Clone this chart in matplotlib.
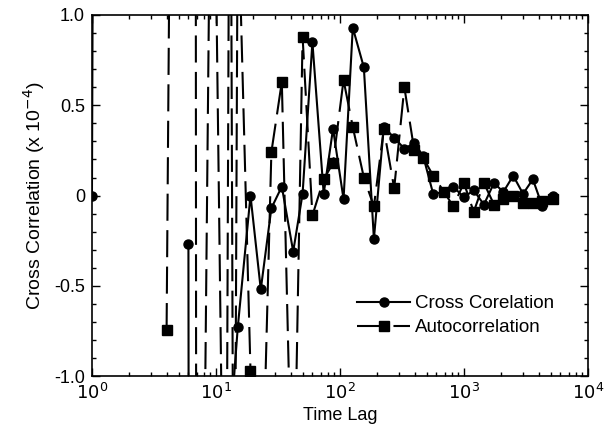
import numpy as np
import matplotlib
matplotlib.use("Agg")
import matplotlib.pyplot as plt
from matplotlib.ticker import MultipleLocator, LogLocator, NullFormatter

plt.rcParams['font.family'] = ['Liberation Sans', 'DejaVu Sans']

# Cross correlation (x 1e-4); NaN = not plotted
cross_lag = [1, 2, 3, 6, 7, 8, 9, 10, 12, 13, 15, 19, 23, 28, 34, 42, 50, 60, 74, 88,
             107, 127, 156, 188, 226, 274, 331, 398, 469, 565, 694, 820, 1000, 1200,
             1450, 1750, 2080, 2500, 3000, 3600, 4300, 5200]
cross_val = [0.0, 60.0, np.nan, -0.27, -40.0, -20.0, -10.0, -8.0, -5.0, -1.3, -0.73, 0.0,
             -0.52, -0.07, 0.05, -0.31, 0.01, 0.85, 0.01, 0.37, -0.02, 0.93, 0.71, -0.24,
             0.38, 0.32, 0.26, 0.29, 0.22, 0.01, 0.02, 0.05, -0.01, 0.03, -0.05, 0.07,
             0.02, 0.11, 0.01, 0.09, -0.06, 0.0]

# Autocorrelation (x 1e-4)
auto_lag = [4, 5, 6, 7, 8, 9, 10, 12, 13, 14, 15, 19, 23, 28, 34, 42, 50, 60, 74, 88,
            107, 127, 156, 188, 226, 274, 331, 398, 469, 565, 694, 820, 1000, 1200,
            1450, 1750, 2080, 2500, 3000, 3600, 4300, 5200]
auto_val = [-0.745, 8.0, 60.0, -6.0, -1.8, 1.8, 1.3, -3.0, 3.0, -3.0, 1.66, -0.97, -2.0,
            0.24, 0.63, -2.0, 0.88, -0.11, 0.09, 0.18, 0.64, 0.38, 0.10, -0.06, 0.37,
            0.04, 0.60, 0.25, 0.21, 0.11, 0.02, -0.06, 0.07, -0.09, 0.07, -0.05, -0.02,
            0.0, -0.04, -0.04, -0.03, -0.02]

y_ticks = [-1.0, -0.5, 0.0, 0.5, 1.0]
y_ticklabels = ["-1.0", "-0.5", "0", "0.5", "1.0"]
x_ticks = [1, 10, 100, 1000, 10000]
x_ticklabels = ["$10^0$", "$10^1$", "$10^2$", "$10^3$", "$10^4$"]

fig = plt.figure(figsize=(6.13, 4.41), dpi=100)
ax = fig.add_axes([0.150, 0.147, 0.809, 0.819])

ax.plot(cross_lag, cross_val, color='black', lw=1.5, marker='o', markersize=6.5,
        label='Cross Corelation')
ax.plot(auto_lag, auto_val, color='black', lw=1.5, marker='s', markersize=7,
        dashes=(13, 4.5), label='Autocorrelation')

ax.set_xscale('log')
ax.set_xlim(1, 10000)
ax.set_ylim(-1.0, 1.0)
ax.set_xticks(x_ticks)
ax.set_xticklabels(x_ticklabels)
ax.xaxis.set_minor_locator(LogLocator(base=10, subs=np.arange(2, 10)))
ax.xaxis.set_minor_formatter(NullFormatter())
ax.set_yticks(y_ticks)
ax.set_yticklabels(y_ticklabels)
ax.yaxis.set_minor_locator(MultipleLocator(0.1))

ax.tick_params(which='both', direction='in', top=True, right=True, labelsize=13, width=1.0)
ax.tick_params(which='major', length=6, pad=5)
ax.tick_params(which='minor', length=3)
for s in ax.spines.values():
    s.set_linewidth(1.2)

ax.set_xlabel('Time Lag', fontsize=13, labelpad=3)
ax.set_ylabel('Cross Correlation (x 10$^{-4}$)', fontsize=14, labelpad=5)

ax.legend(loc='lower right', bbox_to_anchor=(0.948, 0.09), frameon=False, fontsize=13.5,
          handlelength=2.8, handletextpad=0.3, labelspacing=0.35, borderaxespad=0)

fig.savefig('out.png', dpi=100)
